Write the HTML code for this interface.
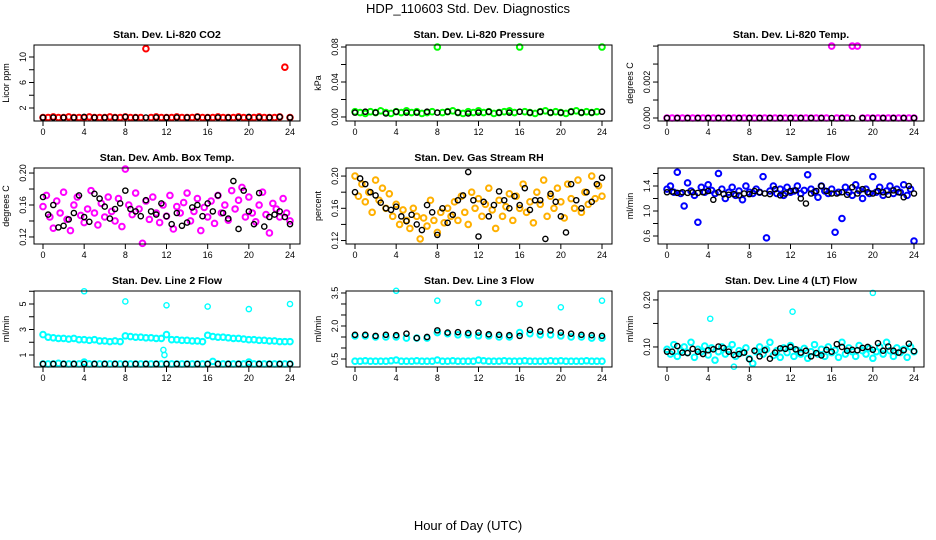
<!DOCTYPE html>
<html><head><meta charset="utf-8"><style>
body{margin:0;background:#fff}
svg{display:block;font-family:"Liberation Sans",sans-serif}
</style></head><body>
<svg id="c" width="936" height="540" viewBox="0 0 936 540">
<text x="468" y="13" text-anchor="middle" font-size="13">HDP_110603  Std. Dev. Diagnostics</text>
<text x="468" y="530" text-anchor="middle" font-size="13">Hour of Day (UTC)</text>
</svg>
<script>
// ---- data (values evenly spaced over 0..24 h) ----
const xTicks=[0,4,8,12,16,20,24];
const co2Red=[0.5,0.5,0.6,0.5,0.5,0.6,0.5,0.5,0.5,0.6,0.5,0.5,0.5,0.6,0.5,0.5,0.6,0.5,0.5,0.5,11.3,0.5,0.6,0.5,0.5,0.5,0.6,0.5,0.5,0.5,0.6,0.5,0.5,0.5,0.6,0.5,0.5,0.5,0.6,0.5,0.5,0.5,0.6,0.5,0.5,0.5,0.6,8.4,0.5];
const co2Black=[0.5,0.5,0.5,0.5,0.6,0.5,0.5,0.5,0.6,0.5,0.5,0.5,0.5,0.5,0.5,0.6,0.5,0.5,0.5,0.5,0.6,0.5,0.5,0.6,0.5];
const presGreen=[0.006,0.005,0.004,0.006,0.005,0.007,0.005,0.004,0.006,0.005,0.007,0.005,0.006,0.004,0.005,0.006,0.08,0.005,0.006,0.007,0.005,0.004,0.006,0.005,0.007,0.005,0.006,0.004,0.005,0.006,0.007,0.005,0.08,0.006,0.005,0.004,0.006,0.007,0.005,0.006,0.005,0.004,0.006,0.007,0.005,0.006,0.005,0.006,0.08];
const presBlack=[0.005,0.006,0.005,0.004,0.006,0.005,0.005,0.006,0.005,0.006,0.005,0.004,0.005,0.006,0.005,0.005,0.006,0.005,0.006,0.005,0.005,0.006,0.005,0.005,0.006];
const tempMag=[0,0,0,0,0,0,0,0,0,0,0,0,0,0,0,0,0,0,0,0,0,0,0,0,0,0,0,0,0,0,0,0,0.004,0,0,0,0.004,0.004,0,0,0,0,0,0,0,0,0,0,0];
const tempBlack=[0,0,0,0,0,0,0,0,0,0,0,0,0,0,0,0,0,0,0,0,0,0,0,0,0];
const boxMag=[0.158,0.172,0.145,0.131,0.165,0.150,0.176,0.142,0.128,0.160,0.170,0.147,0.138,0.155,0.178,0.150,0.135,0.162,0.145,0.170,0.152,0.140,0.168,0.133,0.205,0.160,0.148,0.175,0.155,0.112,0.165,0.142,0.170,0.150,0.138,0.160,0.146,0.172,0.130,0.158,0.150,0.163,0.175,0.140,0.152,0.168,0.128,0.157,0.145,0.165,0.137,0.172,0.150,0.160,0.141,0.178,0.155,0.166,0.182,0.145,0.170,0.150,0.139,0.160,0.176,0.148,0.125,0.162,0.155,0.145,0.168,0.150,0.140];
const boxBlack=[0.170,0.148,0.160,0.132,0.134,0.142,0.150,0.172,0.145,0.139,0.174,0.168,0.158,0.143,0.155,0.162,0.178,0.155,0.152,0.146,0.166,0.152,0.148,0.162,0.146,0.136,0.150,0.134,0.138,0.157,0.160,0.146,0.162,0.152,0.172,0.150,0.143,0.190,0.130,0.178,0.152,0.136,0.175,0.133,0.145,0.148,0.152,0.145,0.136];
const rhOrange=[0.200,0.175,0.190,0.168,0.180,0.155,0.195,0.170,0.185,0.160,0.178,0.150,0.165,0.140,0.158,0.145,0.135,0.160,0.150,0.122,0.148,0.138,0.170,0.145,0.130,0.155,0.142,0.160,0.150,0.168,0.145,0.175,0.155,0.140,0.180,0.160,0.172,0.150,0.165,0.185,0.158,0.135,0.170,0.150,0.162,0.178,0.145,0.175,0.160,0.190,0.155,0.168,0.142,0.180,0.165,0.195,0.150,0.175,0.160,0.185,0.168,0.148,0.190,0.172,0.160,0.195,0.155,0.180,0.165,0.200,0.172,0.188,0.175];
const rhBlack=[0.180,0.197,0.190,0.180,0.176,0.167,0.160,0.158,0.162,0.150,0.144,0.152,0.140,0.133,0.164,0.155,0.127,0.160,0.142,0.152,0.170,0.176,0.205,0.170,0.125,0.168,0.150,0.164,0.181,0.170,0.160,0.175,0.164,0.185,0.158,0.170,0.170,0.122,0.178,0.168,0.150,0.130,0.190,0.170,0.160,0.180,0.168,0.190,0.198];
const flowBlue=[1.35,1.40,1.30,1.62,1.28,1.08,1.45,1.32,1.25,0.82,1.38,1.30,1.42,1.33,1.28,1.60,1.35,1.20,1.30,1.38,1.25,1.32,1.18,1.40,1.30,1.28,1.35,1.30,1.55,0.57,1.32,1.40,1.28,1.35,1.25,1.38,1.30,1.32,1.40,1.28,1.33,1.58,1.35,1.30,1.22,1.40,1.32,1.28,1.35,0.66,1.30,0.88,1.38,1.30,1.25,1.42,1.33,1.20,1.35,1.28,1.55,1.30,1.38,1.25,1.32,1.40,1.28,1.35,1.30,1.42,1.25,1.35,0.52];
const flowBlack=[1.30,1.31,1.29,1.30,1.29,1.30,1.29,1.30,1.32,1.18,1.30,1.27,1.26,1.27,1.25,1.28,1.27,1.32,1.30,1.28,1.27,1.35,1.25,1.28,1.32,1.33,1.20,1.12,1.28,1.32,1.40,1.32,1.28,1.28,1.30,1.26,1.38,1.28,1.35,1.30,1.28,1.32,1.30,1.26,1.33,1.30,1.22,1.40,1.28];
const l2Cyan=[2.6,2.4,2.35,2.3,2.3,2.25,2.3,2.2,2.2,2.15,2.2,2.1,2.1,2.05,2.1,2.05,2.5,2.45,2.4,2.4,2.35,2.35,2.3,2.3,2.6,2.2,2.2,2.15,2.15,2.1,2.1,2.05,2.55,2.45,2.4,2.4,2.35,2.3,2.3,2.25,2.2,2.2,2.15,2.15,2.1,2.1,2.05,2.05,2.05];
const l2CyanLow=[0.3,0.3,0.3,0.35,0.3,0.3,0.3,0.3,0.45,0.3,0.3,0.3,0.3,0.3,0.3,0.3,0.3,0.3,0.3,0.3,0.3,0.3,0.3,0.3,0.3,0.3,0.3,0.3,0.3,0.3,0.3,0.3,0.3,0.5,0.3,0.3,0.3,0.3,0.3,0.3,0.45,0.3,0.3,0.3,0.3,0.3,0.3,0.3,0.3];
const l2Black=[0.3,0.3,0.3,0.3,0.3,0.3,0.3,0.3,0.3,0.3,0.3,0.3,0.3,0.3,0.3,0.3,0.3,0.3,0.3,0.3,0.3,0.3,0.3,0.3,0.3];
const l2OutX=[4,8,12,16,20,24,11.7,11.8];
const l2OutY=[6.0,5.2,4.9,4.8,4.6,5.0,1.4,1.0];
const l3Cyan=[0.4,0.4,0.42,0.4,0.4,0.4,0.4,0.42,0.45,0.4,0.4,0.4,0.42,0.4,0.4,0.4,0.45,0.4,0.4,0.42,0.4,0.4,0.4,0.4,0.45,0.42,0.4,0.4,0.4,0.42,0.4,0.4,0.4,0.42,0.4,0.4,0.4,0.4,0.42,0.4,0.42,0.4,0.4,0.4,0.4,0.42,0.4,0.4,0.4];
const l3CyanHigh=[1.55,1.55,1.5,1.5,1.5,1.45,1.45,1.45,1.7,1.65,1.6,1.6,1.55,1.55,1.5,1.5,1.7,1.65,1.6,1.6,1.55,1.5,1.5,1.45,1.45];
const l3Black=[1.6,1.6,1.55,1.6,1.58,1.65,1.45,1.5,1.8,1.7,1.72,1.68,1.7,1.62,1.6,1.58,1.55,1.82,1.75,1.8,1.7,1.65,1.6,1.58,1.55];
const l3OutX=[4,8,12,16,20,24];
const l3OutY=[3.6,3.15,3.05,3.0,2.85,3.15];
const l4Cyan=[0.095,0.085,0.105,0.080,0.092,0.100,0.088,0.110,0.078,0.095,0.090,0.102,0.083,0.098,0.072,0.090,0.100,0.085,0.095,0.105,0.080,0.092,0.088,0.098,0.075,0.065,0.090,0.100,0.085,0.095,0.110,0.082,0.092,0.078,0.098,0.088,0.103,0.080,0.093,0.085,0.097,0.076,0.090,0.105,0.085,0.095,0.080,0.100,0.088,0.093,0.078,0.110,0.085,0.098,0.090,0.080,0.103,0.092,0.085,0.097,0.076,0.090,0.100,0.085,0.110,0.092,0.080,0.098,0.088,0.095,0.078,0.100,0.090];
const l4Black=[0.090,0.090,0.102,0.088,0.087,0.096,0.090,0.085,0.093,0.095,0.101,0.098,0.090,0.083,0.085,0.088,0.074,0.092,0.080,0.093,0.075,0.088,0.097,0.096,0.100,0.095,0.088,0.092,0.080,0.087,0.082,0.094,0.090,0.106,0.100,0.092,0.094,0.093,0.098,0.100,0.094,0.108,0.092,0.101,0.092,0.088,0.093,0.107,0.091];
const l4OutX=[4.2,12.2,20,6.5];
const l4OutY=[0.16,0.175,0.215,0.058];

const NS='http://www.w3.org/2000/svg';
const svg=document.getElementById('c');
function mk(tag,attrs,parent){const e=document.createElementNS(NS,tag);for(const k in attrs)e.setAttribute(k,attrs[k]);(parent||svg).appendChild(e);return e;}

const colL=[34,346,658], rowT=[45,168,291], W=266, H=76;
const panels=[
 {c:0,r:0,title:'Stan. Dev. Li-820 CO2',yl:'Licor ppm',ymin:-0.04,ymax:11.88,ticks:[2,4,6,8,10],labs:[2,6,10],dec:0,series:[[co2Red,'#ff0000'],[co2Black,'#000']]},
 {c:1,r:0,title:'Stan. Dev. Li-820 Pressure',yl:'kPa',ymin:-0.0046,ymax:0.0823,ticks:[0,0.02,0.04,0.06,0.08],labs:[0,0.04,0.08],dec:2,series:[[presGreen,'#00ff00'],[presBlack,'#000']]},
 {c:2,r:0,title:'Stan. Dev. Li-820 Temp.',yl:'degrees C',ymin:-0.000167,ymax:0.00406,ticks:[0,0.001,0.002,0.003,0.004],labs:[0,0.002],dec:3,series:[[tempMag,'#ff00ff'],[tempBlack,'#000']]},
 {c:0,r:1,title:'Stan. Dev. Amb. Box Temp.',yl:'degrees C',ymin:0.1112,ymax:0.2063,ticks:[0.12,0.14,0.16,0.18,0.20],labs:[0.12,0.16,0.20],dec:2,series:[[boxMag,'#ff00ff'],[boxBlack,'#000']]},
 {c:1,r:1,title:'Stan. Dev. Gas Stream RH',yl:'percent',ymin:0.1157,ymax:0.21,ticks:[0.12,0.14,0.16,0.18,0.20],labs:[0.12,0.16,0.20],dec:2,series:[[rhOrange,'#ffb000'],[rhBlack,'#000']]},
 {c:2,r:1,title:'Stan. Dev. Sample Flow',yl:'ml/min',ymin:0.472,ymax:1.688,ticks:[0.6,0.8,1.0,1.2,1.4,1.6],labs:[0.6,1.0,1.4],dec:1,series:[[flowBlue,'#0000ff'],[flowBlack,'#000']]},
 {c:0,r:2,title:'Stan. Dev. Line 2 Flow',yl:'ml/min',ymin:0.06,ymax:6.02,ticks:[1,2,3,4,5,6],labs:[1,3,5],dec:0,series:[[l2Cyan,'#00ffff'],[l2CyanLow,'#00ffff'],[l2Black,'#000']],out:[l2OutX,l2OutY,'#00ffff']},
 {c:1,r:2,title:'Stan. Dev. Line 3 Flow',yl:'ml/min',ymin:0.136,ymax:3.59,ticks:[0.5,1.0,1.5,2.0,2.5,3.0,3.5],labs:[0.5,2.0,3.5],dec:1,series:[[l3Cyan,'#00ffff'],[l3CyanHigh,'#00ffff'],[l3Black,'#000']],out:[l3OutX,l3OutY,'#00ffff']},
 {c:2,r:2,title:'Stan. Dev. Line 4 (LT) Flow',yl:'ml/min',ymin:0.0574,ymax:0.219,ticks:[0.10,0.15,0.20],labs:[0.10,0.20],dec:2,series:[[l4Cyan,'#00ffff'],[l4Black,'#000']],out:[l4OutX,l4OutY,'#00ffff']}
];

panels.forEach((p,pi)=>{
  const L=colL[p.c],T=rowT[p.r];
  const g=mk('g',{});
  
  
  const xs=v=>L+9+v/24*247;
  const ys=v=>T+H-(v-p.ymin)/(p.ymax-p.ymin)*H;
  const t=mk('text',{x:L+W/2,y:T-7,'text-anchor':'middle','font-size':10.5,'font-weight':'bold'},g);
  t.textContent=p.title;
  
  
  const yt=mk('text',{transform:`translate(${L-25},${T+H/2}) rotate(-90)`,'text-anchor':'middle','font-size':9},g);
  yt.textContent=p.yl;
  
  
  p.series.forEach(s=>{
    const vals=s[0],n=vals.length,black=s[1]==='#000';
    vals.forEach((v,i)=>{
      const c=mk('circle',{cx:xs(i*24/(n-1)),cy:ys(v),r:black?2.6:2.8,fill:'none',stroke:s[1],'stroke-width':black?1.4:2},g);
      
      
    });
  });
  if(p.out){p.out[0].forEach((xv,i)=>{
    const c=mk('circle',{cx:xs(xv),cy:ys(p.out[1][i]),r:2.6,fill:'none',stroke:p.out[2],'stroke-width':1.4},g);
    
    
  });}
  const box=mk('rect',{x:L,y:T,width:W,height:H,fill:'none',stroke:'#000','stroke-width':1},g);
  
  
  xTicks.forEach(v=>{
    mk('line',{x1:xs(v),x2:xs(v),y1:T+H,y2:T+H+5,stroke:'#000'},g);
    const l=mk('text',{x:xs(v),y:T+H+14,'text-anchor':'middle','font-size':9},g);
    l.textContent=v;
    
    
  });
  p.ticks.forEach(v=>{mk('line',{x1:L-5,x2:L,y1:ys(v),y2:ys(v),stroke:'#000'},g);});
  p.labs.forEach(v=>{
    const l=mk('text',{transform:`translate(${L-8},${ys(v)}) rotate(-90)`,'text-anchor':'middle','font-size':9},g);
    l.textContent=v.toFixed(p.dec);
    
    
  });
});
</script>
</body></html>
